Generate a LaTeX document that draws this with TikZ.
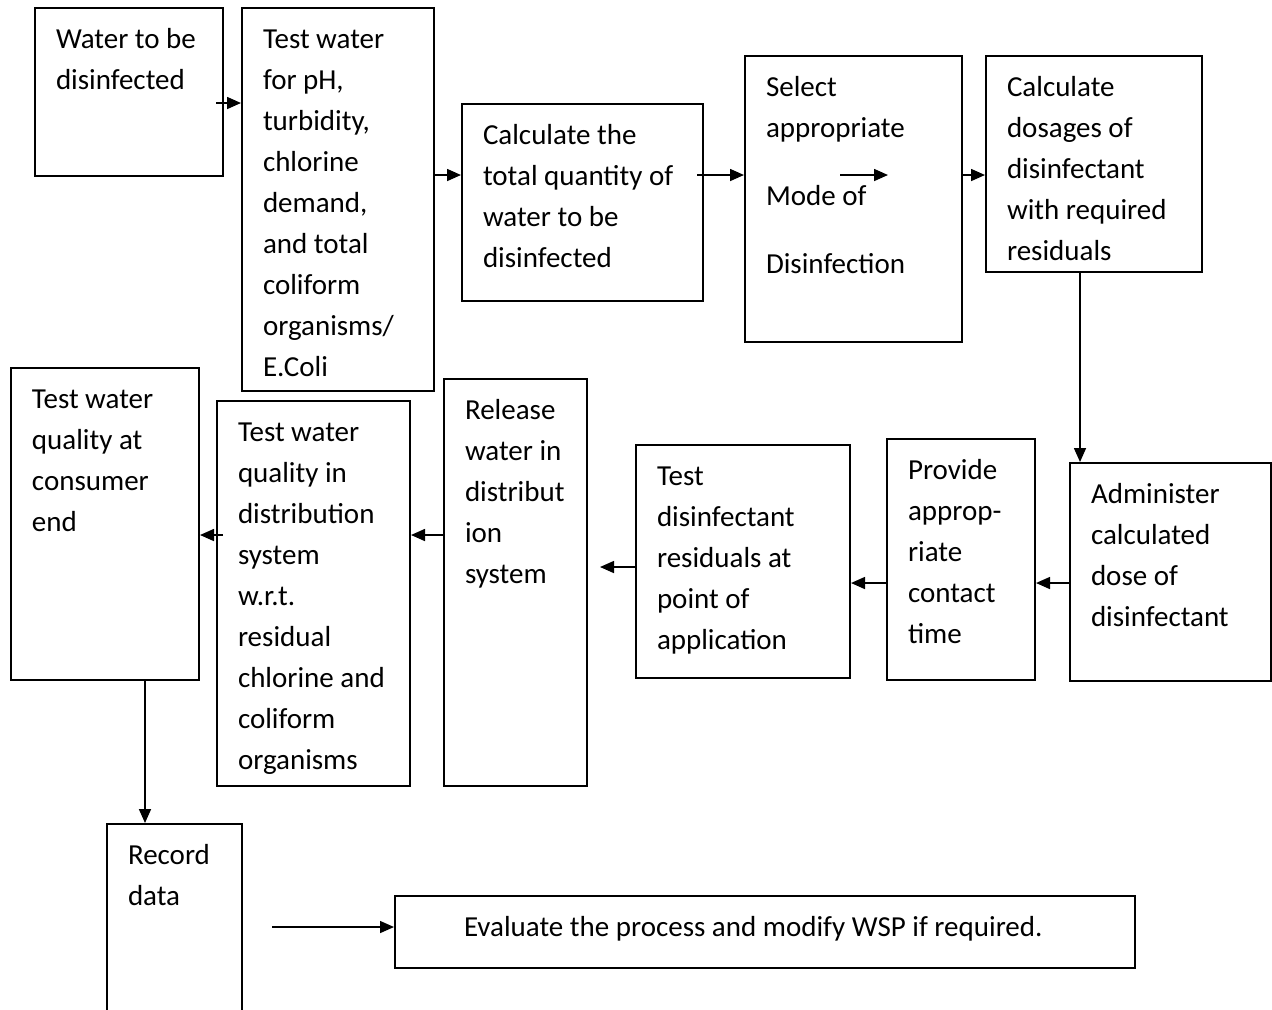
\documentclass[tikz,border=0pt]{standalone}
\usepackage{fontspec}
\setmainfont{Carlito}
\usetikzlibrary{arrows.meta}

\tikzset{
  stepbox/.style={draw, line width=1pt, anchor=north west, align=flush left,
    inner xsep=10.5pt, inner ysep=0pt, text height=20pt,
    font=\fontsize{14.5pt}{20.5pt}\selectfont},
  flow/.style={-{Triangle[length=7pt,width=6pt]}, line width=0.8pt}
}

\begin{document}
\begin{tikzpicture}[x=0.5pt, y=-0.5pt]
  % frame of the page
  \useasboundingbox (0,0) rectangle (1272,1009);
  \clip (0,0) rectangle (1272,1009);

  % top row
  \node[stepbox, text width=73pt, text depth=64pt] (water) at (34,7) {Water to be\\disinfected};
  \node[stepbox, text width=75pt, text depth=171.5pt] (test1) at (241,7)
    {Test water\\for pH,\\turbidity,\\chlorine\\demand,\\and total\\coliform\\organisms/\\E.Coli};
  \node[stepbox, text width=99.5pt, text depth=78.5pt] (calcq) at (461,103)
    {Calculate the\\total quantity of\\water to be\\disinfected};
  \node[stepbox, text width=87.5pt, text depth=123pt] (select) at (744,55)
    {Select\\appropriate\\[13.5pt]Mode of\\[13.5pt]Disinfection};
  \node[stepbox, text width=87pt, text depth=88pt] (dosage) at (985,55)
    {Calculate\\dosages of\\disinfectant\\with required\\residuals};

  % middle row, right to left
  \node[stepbox, text width=79.5pt, text depth=89pt] (admin) at (1069,462)
    {Administer\\calculated\\dose of\\disinfectant};
  \node[stepbox, text width=53pt, text depth=100.5pt] (contact) at (886,438)
    {Provide\\approp-\\riate\\contact\\time};
  \node[stepbox, text width=86pt, text depth=96.5pt] (residual) at (635,444)
    {Test\\disinfectant\\residuals at\\point of\\application};
  \node[stepbox, text width=50.5pt, text depth=183.5pt] (release) at (443,378)
    {Release\\water in\\distribut\\ion\\system};
  \node[stepbox, text width=75.5pt, text depth=172.5pt] (distrib) at (216,400)
    {Test water\\quality in\\distribution\\system\\w.r.t.\\residual\\chlorine and\\coliform\\organisms};
  \node[stepbox, text width=73pt, text depth=136pt] (consumer) at (10,367)
    {Test water\\quality at\\consumer\\end};

  % bottom row
  \node[stepbox, text width=46.5pt, text depth=80pt] (record) at (106,823) {Record\\data};
  \node[stepbox, inner xsep=34.5pt, text width=301pt, text depth=16pt] (evaluate) at (394,895)
    {Evaluate the process and modify WSP if required.};

  % arrows along the top row
  \coordinate (w1) at (216,103);
  \coordinate (r1) at (0,175);
  \coordinate (q1) at (697,175);
  \coordinate (m1) at (840,175);
  \coordinate (m2) at (888,175);
  \draw[flow] (w1) -- (w1 -| test1.west);
  \draw[flow] (test1.east |- r1) -- (calcq.west |- r1);
  \draw[flow] (q1) -- (q1 -| select.west);
  \draw[flow] (m1) -- (m2);
  \draw[flow] (select.east |- r1) -- (dosage.west |- r1);

  % down and back along the middle row
  \coordinate (c1) at (1080,0);
  \coordinate (r2) at (0,583);
  \coordinate (p1) at (600,567);
  \coordinate (r3) at (0,535);
  \coordinate (d1) at (223,535);
  \draw[flow] (dosage.south -| c1) -- (admin.north -| c1);
  \draw[flow] (admin.west |- r2) -- (contact.east |- r2);
  \draw[flow] (contact.west |- r2) -- (residual.east |- r2);
  \draw[flow] (residual.west |- p1) -- (p1);
  \draw[flow] (release.west |- r3) -- (distrib.east |- r3);
  \draw[flow] (d1) -- (consumer.east |- r3);

  % to the bottom row
  \coordinate (c2) at (145,0);
  \coordinate (e1) at (272,927);
  \draw[flow] (consumer.south -| c2) -- (record.north -| c2);
  \draw[flow] (e1) -- (e1 -| evaluate.west);
\end{tikzpicture}
\end{document}
